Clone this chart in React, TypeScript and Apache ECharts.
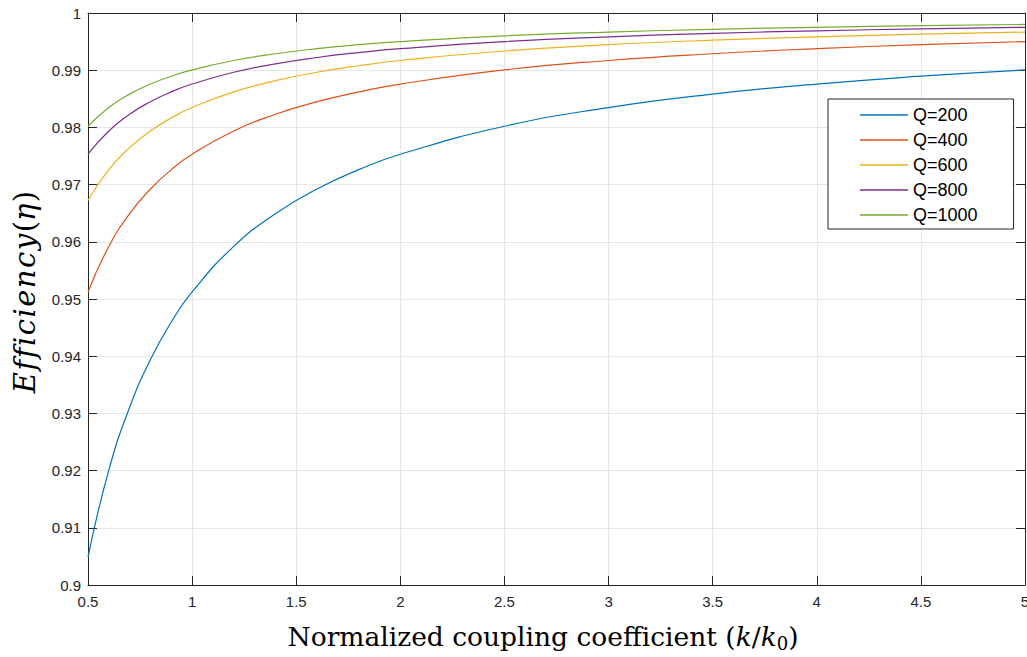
import React, { useEffect, useRef } from "react";
import * as echarts from "echarts";

// Normalized coupling coefficient k/k0
const kValues = [0.5, 0.6, 0.7, 0.8, 0.9, 1, 1.2, 1.4, 1.6, 1.8, 2, 2.5, 3, 3.5, 4, 4.5, 5];

const seriesNames = ["Q=200", "Q=400", "Q=600", "Q=800", "Q=1000"];

const q200 = [0.90488, 0.92007, 0.93108, 0.93942, 0.94597, 0.95123, 0.95919, 0.96492, 0.96923, 0.97261, 0.97531, 0.9802, 0.98347, 0.98582, 0.98758, 0.98895, 0.99005];
const q400 = [0.95123, 0.95919, 0.96492, 0.96923, 0.97261, 0.97531, 0.97938, 0.9823, 0.9845, 0.98621, 0.98758, 0.99005, 0.9917, 0.99288, 0.99377, 0.99446, 0.99501];
const q600 = [0.96722, 0.97261, 0.97647, 0.97938, 0.98165, 0.98347, 0.98621, 0.98817, 0.98964, 0.99078, 0.9917, 0.99336, 0.99446, 0.99525, 0.99584, 0.9963, 0.99667];
const q800 = [0.97531, 0.97938, 0.9823, 0.9845, 0.98621, 0.98758, 0.98964, 0.99111, 0.99222, 0.99308, 0.99377, 0.99501, 0.99584, 0.99644, 0.99688, 0.99723, 0.9975];
const q1000 = [0.9802, 0.98347, 0.98582, 0.98758, 0.98895, 0.99005, 0.9917, 0.99288, 0.99377, 0.99446, 0.99501, 0.99601, 0.99667, 0.99715, 0.9975, 0.99778, 0.998];

const seriesValues = [q200, q400, q600, q800, q1000];
const colors = ["#0072BD", "#D95319", "#EDB120", "#7E2F8E", "#77AC30"];

const AXIS_COLOR = "#262626";
const GRID_COLOR = "#e6e6e6";
const SANS = "'Liberation Sans', Arial, Helvetica, sans-serif";
const SERIF = "'DejaVu Serif', serif";

const yLetters = ["E", "f", "f", "i", "c", "i", "e", "n", "c", "y"];

export default function App() {
  const ref = useRef<HTMLDivElement>(null);

  useEffect(() => {
    if (!ref.current) return;
    const chart = echarts.init(ref.current, undefined, { renderer: "svg" });

    const tickCommon = { show: true, inside: true, length: 9, lineStyle: { color: AXIS_COLOR, width: 1 } };
    const lineCommon = { show: true, onZero: false, lineStyle: { color: AXIS_COLOR, width: 1 } };

    const yText = yLetters.map((c) => `{i|${c}}`).join("") + "{p|(}{i|η}{p|)}";

    chart.setOption({
      animation: false,
      backgroundColor: "#ffffff",
      grid: { left: 88, right: 2, top: 13, bottom: 72, containLabel: false, outerBoundsMode: "none" },
      xAxis: [
        {
          type: "value",
          min: 0.5,
          max: 5,
          interval: 0.5,
          position: "bottom",
          axisLine: lineCommon,
          axisTick: tickCommon,
          axisLabel: { color: AXIS_COLOR, fontSize: 15, fontFamily: SANS, margin: 9 },
          splitLine: { show: true, lineStyle: { color: GRID_COLOR, width: 1 } },
        },
        {
          type: "value",
          min: 0.5,
          max: 5,
          interval: 0.5,
          position: "top",
          axisLine: lineCommon,
          axisTick: tickCommon,
          axisLabel: { show: false },
          splitLine: { show: false },
        },
      ],
      yAxis: [
        {
          type: "value",
          min: 0.9,
          max: 1,
          interval: 0.01,
          position: "left",
          axisLine: lineCommon,
          axisTick: tickCommon,
          axisLabel: {
            color: AXIS_COLOR,
            fontSize: 15,
            fontFamily: SANS,
            margin: 7,
            formatter: (v: number) => String(parseFloat(v.toFixed(2))),
          },
          splitLine: { show: true, lineStyle: { color: GRID_COLOR, width: 1 } },
        },
        {
          type: "value",
          min: 0.9,
          max: 1,
          interval: 0.01,
          position: "right",
          axisLine: lineCommon,
          axisTick: tickCommon,
          axisLabel: { show: false },
          splitLine: { show: false },
        },
      ],
      legend: {
        orient: "vertical",
        left: 828,
        top: 99,
        data: seriesNames.map((n) => ({ name: n, icon: "rect" })),
        backgroundColor: "#ffffff",
        borderColor: AXIS_COLOR,
        borderWidth: 1,
        padding: [6, 36, 4, 32],
        itemWidth: 48,
        itemHeight: 1.5,
        itemGap: 5,
        textStyle: { color: "#000000", fontSize: 18, fontFamily: SANS, lineHeight: 20 },
      },
      series: seriesNames.map((name, i) => ({
        name,
        type: "line",
        xAxisIndex: 0,
        yAxisIndex: 0,
        data: kValues.map((k, j) => [k, seriesValues[i][j]]),
        smooth: true,
        symbol: "none",
        showSymbol: false,
        lineStyle: { color: colors[i], width: 1.2 },
        itemStyle: { color: colors[i] },
        z: 3,
      })),
      graphic: [
        {
          type: "text",
          x: 543,
          y: 636,
          style: {
            text: "{n|Normalized coupling coefficient (}{i|k}{n|/}{i|k}{s|0}{n|)}",
            align: "center",
            verticalAlign: "middle",
            fill: "#000000",
            rich: {
              n: { fontFamily: SERIF, fontSize: 26.5, fill: "#000", lineHeight: 32 },
              i: { fontFamily: SERIF, fontSize: 26.5, fontStyle: "italic", fill: "#000", lineHeight: 32 },
              s: { fontFamily: SERIF, fontSize: 18, fill: "#000", lineHeight: 18, verticalAlign: "bottom" },
            },
          },
        },
        {
          type: "text",
          x: 25,
          y: 292,
          rotation: Math.PI / 2,
          style: {
            text: yText,
            align: "center",
            verticalAlign: "middle",
            fill: "#000000",
            rich: {
              p: { fontFamily: SERIF, fontSize: 29, fill: "#000" },
              i: { fontFamily: SERIF, fontSize: 29, fontStyle: "italic", fill: "#000", padding: [0, 1.5, 0, 0] },
            },
          },
        },
      ],
    });

    return () => chart.dispose();
  }, []);

  return (
    <div
      ref={ref}
      style={{ position: "absolute", left: 0, top: 0, width: 1027, height: 657, background: "#fff" }}
    />
  );
}
